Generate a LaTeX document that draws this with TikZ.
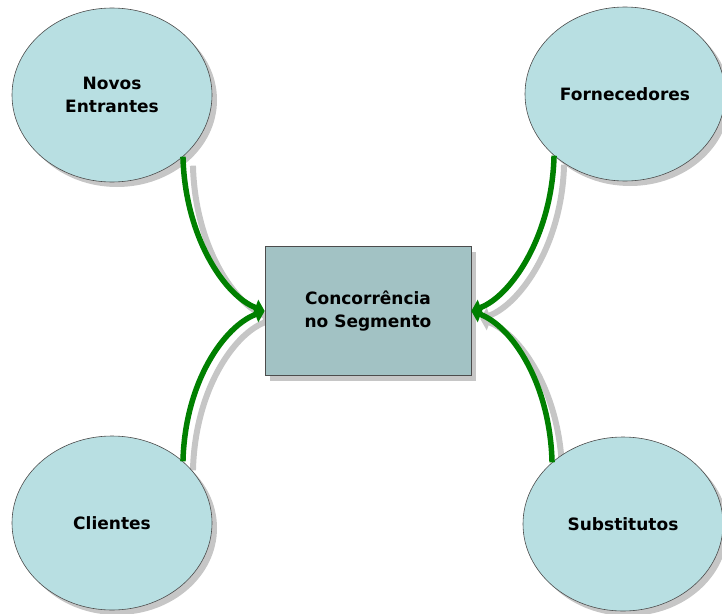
\documentclass[tikz,border=0pt]{standalone}
\usepackage{fontspec}
\setmainfont{DejaVu Sans}
\usetikzlibrary{shapes.geometric,arrows.meta,shadows,backgrounds}
\definecolor{ovalfill}{RGB}{184,223,226}
\definecolor{boxfill}{RGB}{162,194,196}
\definecolor{forcegreen}{RGB}{0,128,0}
\definecolor{shadegray}{RGB}{198,198,198}
\begin{document}
\begin{tikzpicture}[x=1pt,y=-1pt,
  castshadow/.style={general shadow={shadow xshift=5pt,shadow yshift=-5pt,fill=shadegray}},
  labelfont/.style={font=\bfseries\fontsize{17}{23}\selectfont, align=center},
  force/.style={ellipse, draw=black!70, line width=0.6pt, fill=ovalfill,
    minimum width=200pt, minimum height=174pt, inner sep=0pt, castshadow, labelfont},
  core/.style={rectangle, draw=black!70, line width=0.6pt, fill=boxfill,
    minimum width=206pt, minimum height=129pt, castshadow, labelfont},
  pull/.style={line width=5.5pt, draw=forcegreen, -{Triangle[length=10pt,width=16pt]}},
  pullshade/.style={line width=6pt, draw=shadegray, -{Triangle[length=10pt,width=16pt]}}
]
\useasboundingbox (0,0) rectangle (722,613);

% the five forces
\node[force] (ne) at (112,95)  {Novos\\Entrantes};
\node[force] (fo) at (625,94)  {Fornecedores};
\node[force] (cl) at (112,523) {Clientes};
\node[force] (su) at (623,524) {Substitutos};
\node[core] (core) at (368,311) {Concorrência\\no Segmento};

% shadows of the connectors, kept behind the shapes
\begin{scope}[on background layer]
\draw[pullshade] ([shift={(10,9)}]ne.-41) .. controls +(2,80) and +(-40,-15) .. ([shift={(9,8)}]core.west);
\draw[pullshade] ([shift={(10,9)}]cl.41) .. controls +(2,-80) and +(-40,15) .. ([shift={(9,8)}]core.west);
\draw[pullshade] ([shift={(10,9)}]fo.-139) .. controls +(-2,80) and +(40,-15) .. ([shift={(9,8)}]core.east);
\draw[pullshade] ([shift={(10,9)}]su.139) .. controls +(-2,-80) and +(40,15) .. ([shift={(9,8)}]core.east);
\end{scope}

% pressures on the segment
\draw[pull] (ne.-41) .. controls +(2,80) and +(-40,-15) .. (core.west);
\draw[pull] (cl.41) .. controls +(2,-80) and +(-40,15) .. (core.west);
\draw[pull] (fo.-139) .. controls +(-2,80) and +(40,-15) .. (core.east);
\draw[pull] (su.139) .. controls +(-2,-80) and +(40,15) .. (core.east);
\end{tikzpicture}
\end{document}
